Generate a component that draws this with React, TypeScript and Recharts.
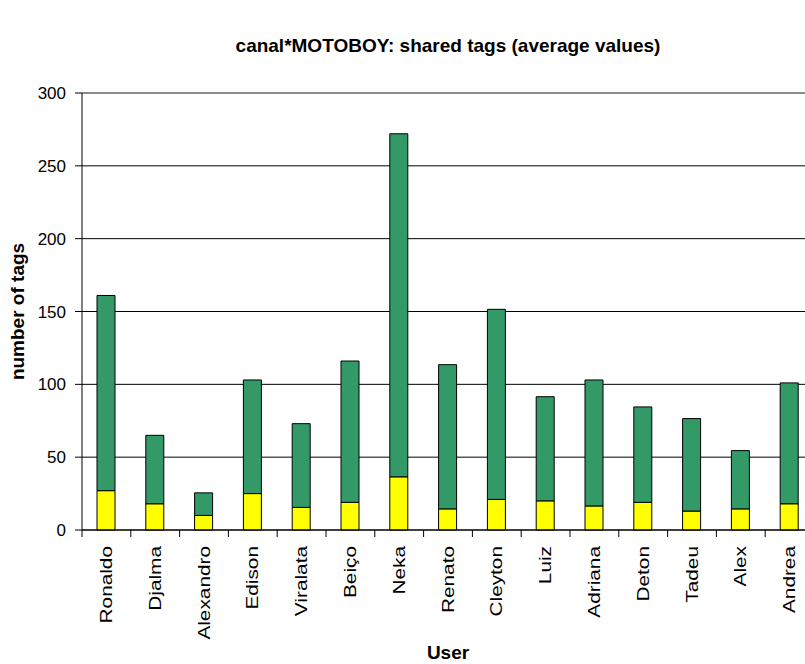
import React from 'react';
import { BarChart, Bar, XAxis, YAxis, CartesianGrid, ReferenceLine } from 'recharts';

// Average number of tags per user; the yellow part is the shared share
const users = [
    'Ronaldo', 'Djalma', 'Alexandro', 'Edison', 'Viralata', 'Beiço', 'Neka', 'Renato',
    'Cleyton', 'Luiz', 'Adriana', 'Deton', 'Tadeu', 'Alex', 'Andrea',
];
const totalTags = [161, 65, 25.5, 103, 73, 116, 272, 113.5, 151.5, 91.5, 103, 84.5, 76.5, 54.5, 101];
const sharedTags = [27, 18, 10, 25, 15.5, 19, 36.5, 14.5, 21, 20, 16.5, 19, 13, 14.5, 18];
const yTicks = [0, 50, 100, 150, 200, 250, 300];

const data = users.map((name, i) => ({
    name,
    shared: sharedTags[i],
    rest: totalTags[i] - sharedTags[i],
}));

const FONT = '"Liberation Sans", Arial, sans-serif';
const CHART_W = 830;
const CHART_H = 664;
const PLOT_LEFT = 82;
const PLOT_RIGHT = 814;
const PLOT_TOP = 93;
const PLOT_BOTTOM = 530;
const BAND = (PLOT_RIGHT - PLOT_LEFT) / users.length;

// category label rotated upwards, with the tick mark on the left band edge
const UserTick = (props: any) => {
    const { x, payload } = props;
    const edge = x - BAND / 2;
    return (
        <g>
            <line x1={edge} x2={edge} y1={PLOT_BOTTOM} y2={PLOT_BOTTOM + 7} stroke="#000" />
            {payload.index === users.length - 1 && (
                <line x1={edge + BAND} x2={edge + BAND} y1={PLOT_BOTTOM} y2={PLOT_BOTTOM + 7} stroke="#000" />
            )}
            <text
                transform={`translate(${x},${PLOT_BOTTOM + 16}) rotate(-90) scale(1.3,1)`}
                textAnchor="end"
                dy="0.35em"
                fontSize={16}
                fontFamily={FONT}
                fill="#000"
            >
                {payload.value}
            </text>
        </g>
    );
};

const YTitle = (props: any) => {
    const { viewBox } = props;
    const cx = 17;
    const cy = viewBox.y + viewBox.height / 2;
    return (
        <text
            transform={`translate(${cx},${cy}) rotate(-90)`}
            textAnchor="middle"
            dy="0.35em"
            fontSize={19}
            fontWeight="bold"
            fontFamily={FONT}
            fill="#000"
        >
            number of tags
        </text>
    );
};

const XTitle = (props: any) => {
    const { viewBox } = props;
    return (
        <text
            x={viewBox.x + viewBox.width / 2}
            y={659}
            textAnchor="middle"
            fontSize={19}
            fontWeight="bold"
            fontFamily={FONT}
            fill="#000"
        >
            User
        </text>
    );
};

export default function App() {
    return (
        <div style={{ position: 'absolute', left: 0, top: 0, width: 805, height: 664, overflow: 'hidden', background: '#fff' }}>
            <div
                style={{
                    position: 'absolute',
                    left: 0,
                    top: 35,
                    width: (PLOT_LEFT + PLOT_RIGHT),
                    textAlign: 'center',
                    fontFamily: FONT,
                    fontWeight: 'bold',
                    fontSize: 19,
                    color: '#000',
                    lineHeight: '22px',
                }}
            >
                canal*MOTOBOY: shared tags (average values)
            </div>
            <BarChart
                width={CHART_W}
                height={CHART_H}
                data={data}
                margin={{ top: PLOT_TOP, right: CHART_W - PLOT_RIGHT, left: 0, bottom: 0 }}
                barSize={18}
            >
                <CartesianGrid vertical={false} stroke="#000" strokeWidth={1} />
                <ReferenceLine y={300} stroke="#999" />
                <XAxis
                    dataKey="name"
                    interval={0}
                    height={CHART_H - PLOT_BOTTOM}
                    tickLine={false}
                    axisLine={{ stroke: '#000' }}
                    tick={<UserTick />}
                    label={<XTitle />}
                />
                <YAxis
                    width={PLOT_LEFT}
                    domain={[0, 300]}
                    ticks={yTicks}
                    interval={0}
                    tickSize={7}
                    tickMargin={9}
                    axisLine={{ stroke: '#000' }}
                    tickLine={{ stroke: '#000' }}
                    tick={{ fontSize: 17, fill: '#000', fontFamily: FONT }}
                    label={<YTitle />}
                />
                <Bar dataKey="shared" stackId="tags" fill="#ffff00" stroke="#000" strokeWidth={1} isAnimationActive={false} />
                <Bar dataKey="rest" stackId="tags" fill="#339966" stroke="#000" strokeWidth={1} isAnimationActive={false} />
            </BarChart>
        </div>
    );
}
